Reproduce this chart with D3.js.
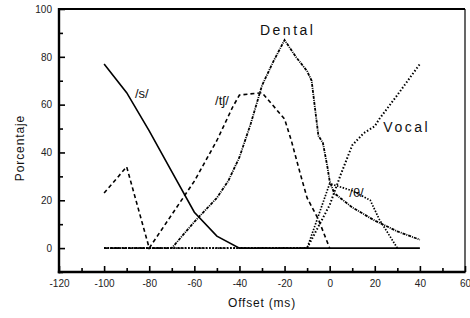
<!DOCTYPE html>
<html>
<head>
<meta charset="utf-8">
<script src="https://cdn.jsdelivr.net/npm/d3@7"></script>
<style>
  body { margin: 0; background: #fff; }
  text { font-family: "Liberation Sans", Arial, sans-serif; }
</style>
</head>
<body>
<svg id="chart" width="470" height="318"></svg>
<script>
// data
var sX = [-100, -90, -80, -70, -60, -50, -40, -30, -20, -10, 0, 10, 20, 30, 40];
var sY = [77, 65, 49, 32, 15, 5, 0, 0, 0, 0, 0, 0, 0, 0, 0];

var tshX = [-100, -90, -80, -70, -60, -50, -43, -40, -30, -20, -17, -13, -10, -5, 0];
var tshY = [23, 34, 0, 14, 28, 45, 59, 64, 65, 54, 45, 31, 21, 12, 0];

var dentalX = [-100, -90, -80, -70, -60, -50, -45, -40, -35, -30, -25, -20, -15, -10, -8, -5, -3, -1, 0, 2, 10, 20, 30, 40];
var dentalY = [0, 0, 0, 0, 11, 21, 28, 38, 52, 68, 78, 87, 80, 74, 70, 47, 44, 34, 28, 23, 17, 11.5, 7, 3.5];

var vocalX = [-100, -90, -80, -70, -60, -50, -40, -30, -20, -10, 0, 5, 10, 15, 20, 22, 30, 40];
var vocalY = [0, 0, 0, 0, 0, 0, 0, 0, 0, 0, 18, 31, 43, 48, 51, 54, 64, 77];

var thetaX = [-100, -90, -80, -70, -60, -50, -40, -30, -20, -10, 0, 10, 18, 22, 30];
var thetaY = [0, 0, 0, 0, 0, 0, 0, 0, 0, 0, 27, 24, 20, 12, 0];

var xTicks = [-120, -100, -80, -60, -40, -20, 0, 20, 40, 60];
var xMinor = [-110, -90, -70, -50, -30, -10, 10, 30, 50];
var yTicks = [0, 20, 40, 60, 80, 100];
var yMinor = [-10, 10, 30, 50, 70, 90];

var svg = d3.select("#chart");
var marginLeft = 59, marginTop = 9, width = 406, height = 263;

var x = d3.scaleLinear().domain([-120, 60]).range([0, width]);
var y = d3.scaleLinear().domain([-10, 100]).range([height, 0]);

var g = svg.append("g").attr("transform", "translate(" + marginLeft + "," + marginTop + ")");

function zip(xs, ys) {
  return xs.map(function(v, i) { return [v, ys[i]]; });
}

var series = [
  { name: "s", pts: zip(sX, sY), dash: null, w: 1.6 },
  { name: "tsh", pts: zip(tshX, tshY), dash: "4,3", w: 1.6 },
  { name: "dental", pts: zip(dentalX, dentalY), dash: "3,1,1,1", w: 1.8 },
  { name: "theta", pts: zip(thetaX, thetaY), dash: "1.5,1.5", w: 1.7 },
  { name: "vocal", pts: zip(vocalX, vocalY), dash: "1.5,2", w: 2 }
];

var line = d3.line()
  .x(function(d) { return x(d[0]); })
  .y(function(d) { return y(d[1]); });

g.selectAll("path.series").data(series).enter()
  .append("path")
  .attr("class", "series")
  .attr("d", function(d) { return line(d.pts); })
  .attr("fill", "none")
  .attr("stroke", "#000")
  .attr("stroke-width", function(d) { return d.w; })
  .attr("stroke-dasharray", function(d) { return d.dash; });

// axes, ticks pointing into the plot (plain hyphen for negatives)
var plain = function(d) { return String(d); };
var yAxis = d3.axisLeft(y).tickValues(yTicks).tickSize(-6).tickPadding(7).tickFormat(plain);
var yAxisMinor = d3.axisLeft(y).tickValues(yMinor).tickSize(-4).tickFormat("");
var xAxis = d3.axisBottom(x).tickValues(xTicks).tickSize(-6).tickPadding(7.5).tickFormat(plain);
var xAxisMinor = d3.axisBottom(x).tickValues(xMinor).tickSize(-4).tickFormat("");

[g.append("g").call(yAxis), g.append("g").call(yAxisMinor),
 g.append("g").attr("transform", "translate(0," + height + ")").call(xAxis),
 g.append("g").attr("transform", "translate(0," + height + ")").call(xAxisMinor)]
  .forEach(function(a) {
    a.select(".domain").remove();
    a.selectAll(".tick line").attr("stroke", "#000").attr("stroke-width", 1.6);
    a.selectAll("text").attr("font-size", 10).attr("fill", "#222")
      .attr("font-family", "'Liberation Sans', Arial, sans-serif");
  });

// frame
g.append("line").attr("x1", 0).attr("x2", width).attr("y1", 0).attr("y2", 0)
  .attr("stroke", "#000").attr("stroke-width", 2);
g.append("line").attr("x1", width).attr("x2", width).attr("y1", 0).attr("y2", height)
  .attr("stroke", "#000").attr("stroke-width", 1.2);
g.append("line").attr("x1", 0).attr("x2", 0).attr("y1", -1).attr("y2", height + 1.2)
  .attr("stroke", "#000").attr("stroke-width", 2.4);
g.append("line").attr("x1", -1.2).attr("x2", width + 0.6).attr("y1", height).attr("y2", height)
  .attr("stroke", "#000").attr("stroke-width", 2.4);

// curve labels
var labels = [
  { t: "/s/", x: -86.3, y: 62.6, size: 13, ls: 0 },
  { t: "/t\u0283/", x: -50.8, y: 59.8, size: 13, ls: 0 },
  { t: "Dental", x: -30.9, y: 89, size: 14, ls: 2.5 },
  { t: "Vocal", x: 23.8, y: 48.7, size: 14, ls: 2.5 },
  { t: "/\u03b8/", x: 8.7, y: 21.2, size: 13, ls: 0 }
];
g.selectAll("text.lab").data(labels).enter()
  .append("text")
  .attr("class", "lab")
  .attr("x", function(d) { return x(d.x); })
  .attr("y", function(d) { return y(d.y); })
  .attr("font-size", function(d) { return d.size; })
  .attr("letter-spacing", function(d) { return d.ls; })
  .attr("fill", "#111")
  .text(function(d) { return d.t; });

// axis titles
svg.append("text")
  .attr("transform", "translate(24,148) rotate(-90)")
  .attr("text-anchor", "middle")
  .attr("font-size", 12)
  .attr("letter-spacing", 0.9)
  .attr("fill", "#111")
  .text("Porcentaje");

svg.append("text")
  .attr("x", 262).attr("y", 307)
  .attr("text-anchor", "middle")
  .attr("font-size", 12)
  .attr("letter-spacing", 0.8)
  .attr("fill", "#111")
  .text("Offset (ms)");
</script>
</body>
</html>
